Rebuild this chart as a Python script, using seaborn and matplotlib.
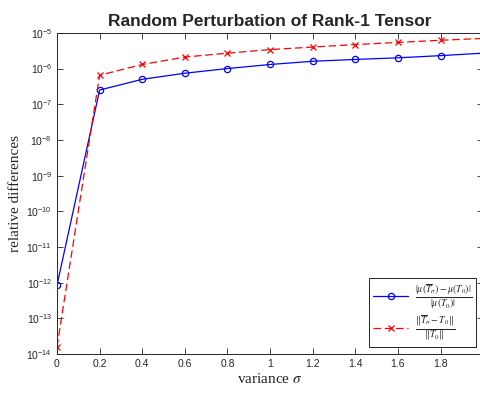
import numpy as np
import pandas as pd
import matplotlib
matplotlib.use("Agg")
import matplotlib.pyplot as plt
import seaborn as sns

# -------------------------
# Data
# -------------------------
sigma = [0.0, 0.2, 0.4, 0.6, 0.8, 1.0, 1.2, 1.4, 1.6, 1.8, 2.0]
mu_diff = [8.5e-13, 2.5e-7, 5.0e-7, 7.4e-7, 1.0e-6, 1.3e-6, 1.6e-6, 1.8e-6, 2.0e-6, 2.3e-6, 2.7e-6]
norm_diff = [1.6e-14, 6.5e-7, 1.3e-6, 2.1e-6, 2.7e-6, 3.4e-6, 4.0e-6, 4.7e-6, 5.4e-6, 6.2e-6, 7.0e-6]

label_mu = r"$\frac{|\mu(\overline{T}_\sigma)-\mu(T_0)|}{|\mu(T_0)|}$"
label_norm = r"$\frac{\|\overline{T}_\sigma-T_0\|}{\|T_0\|}$"

df = pd.DataFrame({"sigma": sigma, "mu": mu_diff, "norm": norm_diff})

# -------------------------
# Style
# -------------------------
sns.set_style("white")
plt.rcParams["font.family"] = ["Liberation Sans", "DejaVu Sans"]
plt.rcParams["mathtext.fontset"] = "stix"

fig = plt.figure(figsize=(4.81, 3.96), dpi=100)
ax = fig.add_axes([0.1185, 0.106, 0.886, 0.811])

sns.lineplot(data=df, x="sigma", y="mu", ax=ax, color="blue", lw=0.9,
             marker="o", markersize=4.5, markerfacecolor="none",
             markeredgecolor="blue", markeredgewidth=0.9, label=label_mu)
sns.lineplot(data=df, x="sigma", y="norm", ax=ax, color="red", lw=0.9,
             marker="x", markersize=4.5, markeredgecolor="red",
             markeredgewidth=0.9, label=label_norm)
ax.lines[1].set_dashes([6, 3])

ax.set_yscale("log")
ax.set_xlim(0, 2)
ax.set_ylim(1e-14, 1e-5)
ax.set_xticks(np.arange(0, 2.01, 0.2))
ax.set_xticklabels(["0", "0.2", "0.4", "0.6", "0.8", "1", "1.2", "1.4", "1.6", "1.8", "2"])
ax.set_yticks([10.0 ** k for k in range(-14, -4)])
ax.yaxis.set_minor_locator(matplotlib.ticker.NullLocator())
ax.tick_params(axis="both", which="major", labelsize=7.5, colors="#262626",
               labelcolor="#262626", direction="in", length=4, width=0.6,
               bottom=True, left=True, top=True, right=True)

for sp in ax.spines.values():
    sp.set_color("#262626")
    sp.set_linewidth(0.7)

ax.set_title("Random Perturbation of Rank-1 Tensor", fontsize=12.5, fontweight="bold", pad=5)
ax.set_xlabel(r"variance $\sigma$", family="Liberation Serif", fontsize=11, labelpad=2)
ax.set_ylabel("relative differences", family="Liberation Serif", fontsize=11, labelpad=3)

leg = ax.legend(loc="lower right", fontsize=10, frameon=True, fancybox=False,
                edgecolor="black", framealpha=1, borderpad=0.3, handlelength=2.5,
                labelspacing=0.2, borderaxespad=0.5, handletextpad=0.5)
leg.get_frame().set_linewidth(0.6)

fig.savefig("out.png", dpi=100)
